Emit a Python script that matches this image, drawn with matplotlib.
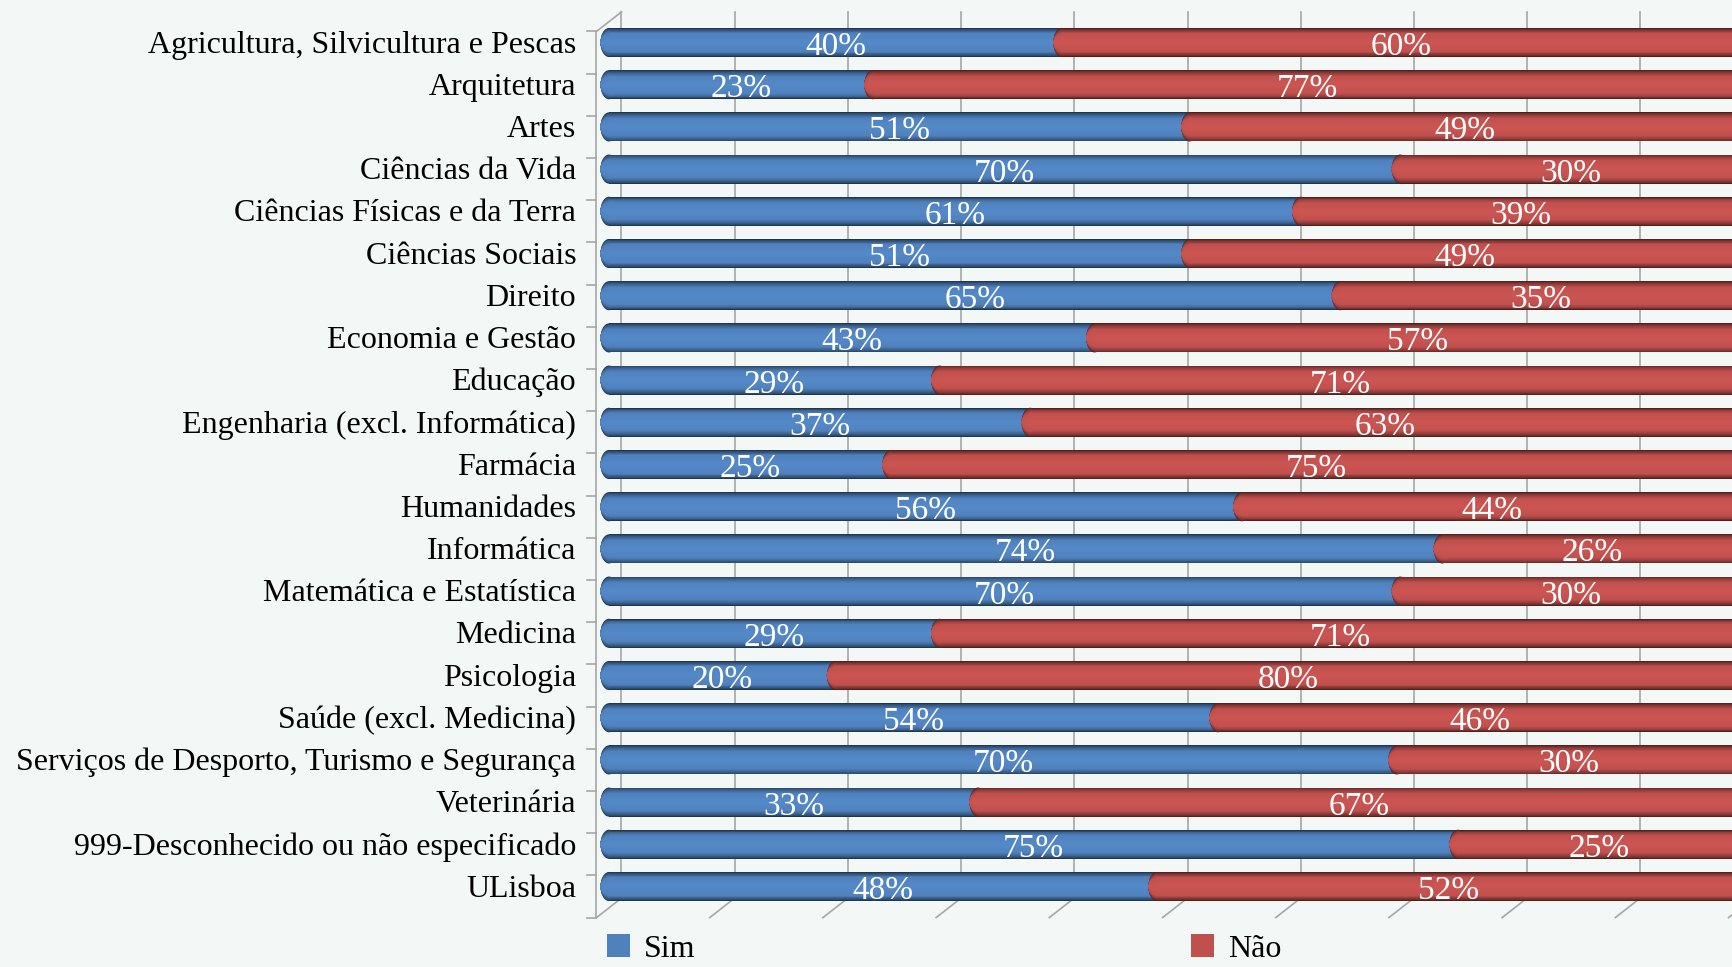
# -*- coding: utf-8 -*-
import numpy as np
import matplotlib
matplotlib.use('Agg')
import matplotlib.pyplot as plt
from matplotlib.patches import Ellipse, Patch
from matplotlib.colors import to_rgb
from matplotlib.font_manager import FontProperties

# Dados (percentagens Sim / Não por área)
categorias = ['Agricultura, Silvicultura e Pescas', 'Arquitetura', 'Artes',
              'Ciências da Vida', 'Ciências Físicas e da Terra', 'Ciências Sociais',
              'Direito', 'Economia e Gestão', 'Educação',
              'Engenharia (excl. Informática)', 'Farmácia', 'Humanidades',
              'Informática', 'Matemática e Estatística', 'Medicina', 'Psicologia',
              'Saúde (excl. Medicina)', 'Serviços de Desporto, Turismo e Segurança',
              'Veterinária', '999-Desconhecido ou não especificado', 'ULisboa']
sim = [40.0, 23.3, 51.3, 69.9, 61.1, 51.3, 64.6, 42.9, 29.2, 37.2, 24.9,
       55.9, 73.6, 69.9, 29.2, 20.0, 53.8, 69.6, 32.6, 75.0, 48.4]
nao = [60.0, 76.7, 48.7, 30.1, 38.9, 48.7, 35.4, 57.1, 70.8, 62.8, 75.1,
       44.1, 26.4, 30.1, 70.8, 80.0, 46.2, 30.4, 67.4, 25.0, 51.6]
legenda = ['Sim', 'Não']

cor_sim  = '#4f81bd'
cor_nao  = '#c0504d'
fundo    = '#f3f8f6'
cor_eixo = '#a6a6a6'
fonte    = 'Liberation Serif'

# escala em pixeis (1% e 1 categoria)
W, H  = 1733., 967.
px_x  = 11.32
px_y  = 42.2
x0    = 609.
y0    = 42.5

fig = plt.figure(figsize=(W / 100, H / 100), dpi=100, facecolor=fundo)
ax = fig.add_axes([0, 0, 1, 1])
ax.set_facecolor(fundo)
ax.set_xlim(-x0 / px_x, (W - x0) / px_x)
ax.set_ylim((H - y0) / px_y, -y0 / px_y)
ax.axis('off')

n   = len(categorias)
y   = np.arange(n)
alt = 0.69
tampa = 8.5 / px_x

# deslocamentos da "profundidade" 3D
dx   = 12.5 / px_x
dy_f = 10.0 / px_y
dy_b = 9.5 / px_y

# parede do fundo e chao
for v in range(0, 101, 10):
	ax.plot([v + dx, v + dx], [-0.5 - dy_b, n - 0.5 - dy_b], color=cor_eixo, lw=1.2, zorder=1)
	ax.plot([v - dx, v + dx], [n - 0.5 + dy_f, n - 0.5 - dy_b], color=cor_eixo, lw=1.2, zorder=1)

# eixo da frente
ax.plot([-dx, -dx], [-0.5 + dy_f, n - 0.5 + dy_f], color=cor_eixo, lw=1.2, zorder=1)
ax.plot([-dx, dx], [-0.5 + dy_f, -0.5 - dy_b], color=cor_eixo, lw=1.2, zorder=1)
for b in np.arange(n + 1) - 0.5:
	ax.plot([-dx - 9 / px_x, -dx], [b + dy_f, b + dy_f], color=cor_eixo, lw=1.2, zorder=1)


def cilindro(left, width, cor, z):
	base   = np.array(to_rgb(cor))
	escuro = base * 0.42
	claro  = np.minimum(base * 1.06, 1)
	N = 16
	for k in range(N):
		t = k / (N - 1.)
		if t < 0.4:
			c = escuro + (base - escuro) * (t / 0.4) ** 0.7
		else:
			c = base + (claro - base) * ((t - 0.4) / 0.6)
		h = alt * (1 - k / float(N))
		ax.barh(y, width, left=left, height=h, color=c, lw=0, zorder=z)
		for yi, l in zip(y, left):
			ax.add_patch(Ellipse((l, yi), 2 * tampa, h, color=c, lw=0, zorder=z))


cilindro(np.zeros(n), sim, cor_sim, 2)
cilindro(np.array(sim), nao, cor_nao, 3)

# rotulos
for i in range(n):
	ax.text(-2.9, i + 0.06, categorias[i], ha='right', va='center', fontsize=23, family=fonte, color='black')
	ax.text(sim[i] / 2., i + 0.1, '%.0f%%' % sim[i], ha='center', va='center', fontsize=24,
	        family=fonte, color='white', zorder=5)
	ax.text(sim[i] + nao[i] / 2., i + 0.1, '%.0f%%' % nao[i], ha='center', va='center', fontsize=24,
	        family=fonte, color='white', zorder=5)

handles = [Patch(facecolor=cor_sim), Patch(facecolor=cor_nao)]
font = FontProperties(family=fonte, size=23)
fig.legend(handles, legenda, loc='upper left', bbox_to_anchor=(607 / W, 1 - 934 / H),
           bbox_transform=fig.transFigure, ncol=2, frameon=False, prop=font,
           handlelength=0.72, handleheight=0.72, handletextpad=0.44,
           columnspacing=15.5, borderpad=0, borderaxespad=0)

plt.savefig('out.png', dpi=100, facecolor=fundo)
